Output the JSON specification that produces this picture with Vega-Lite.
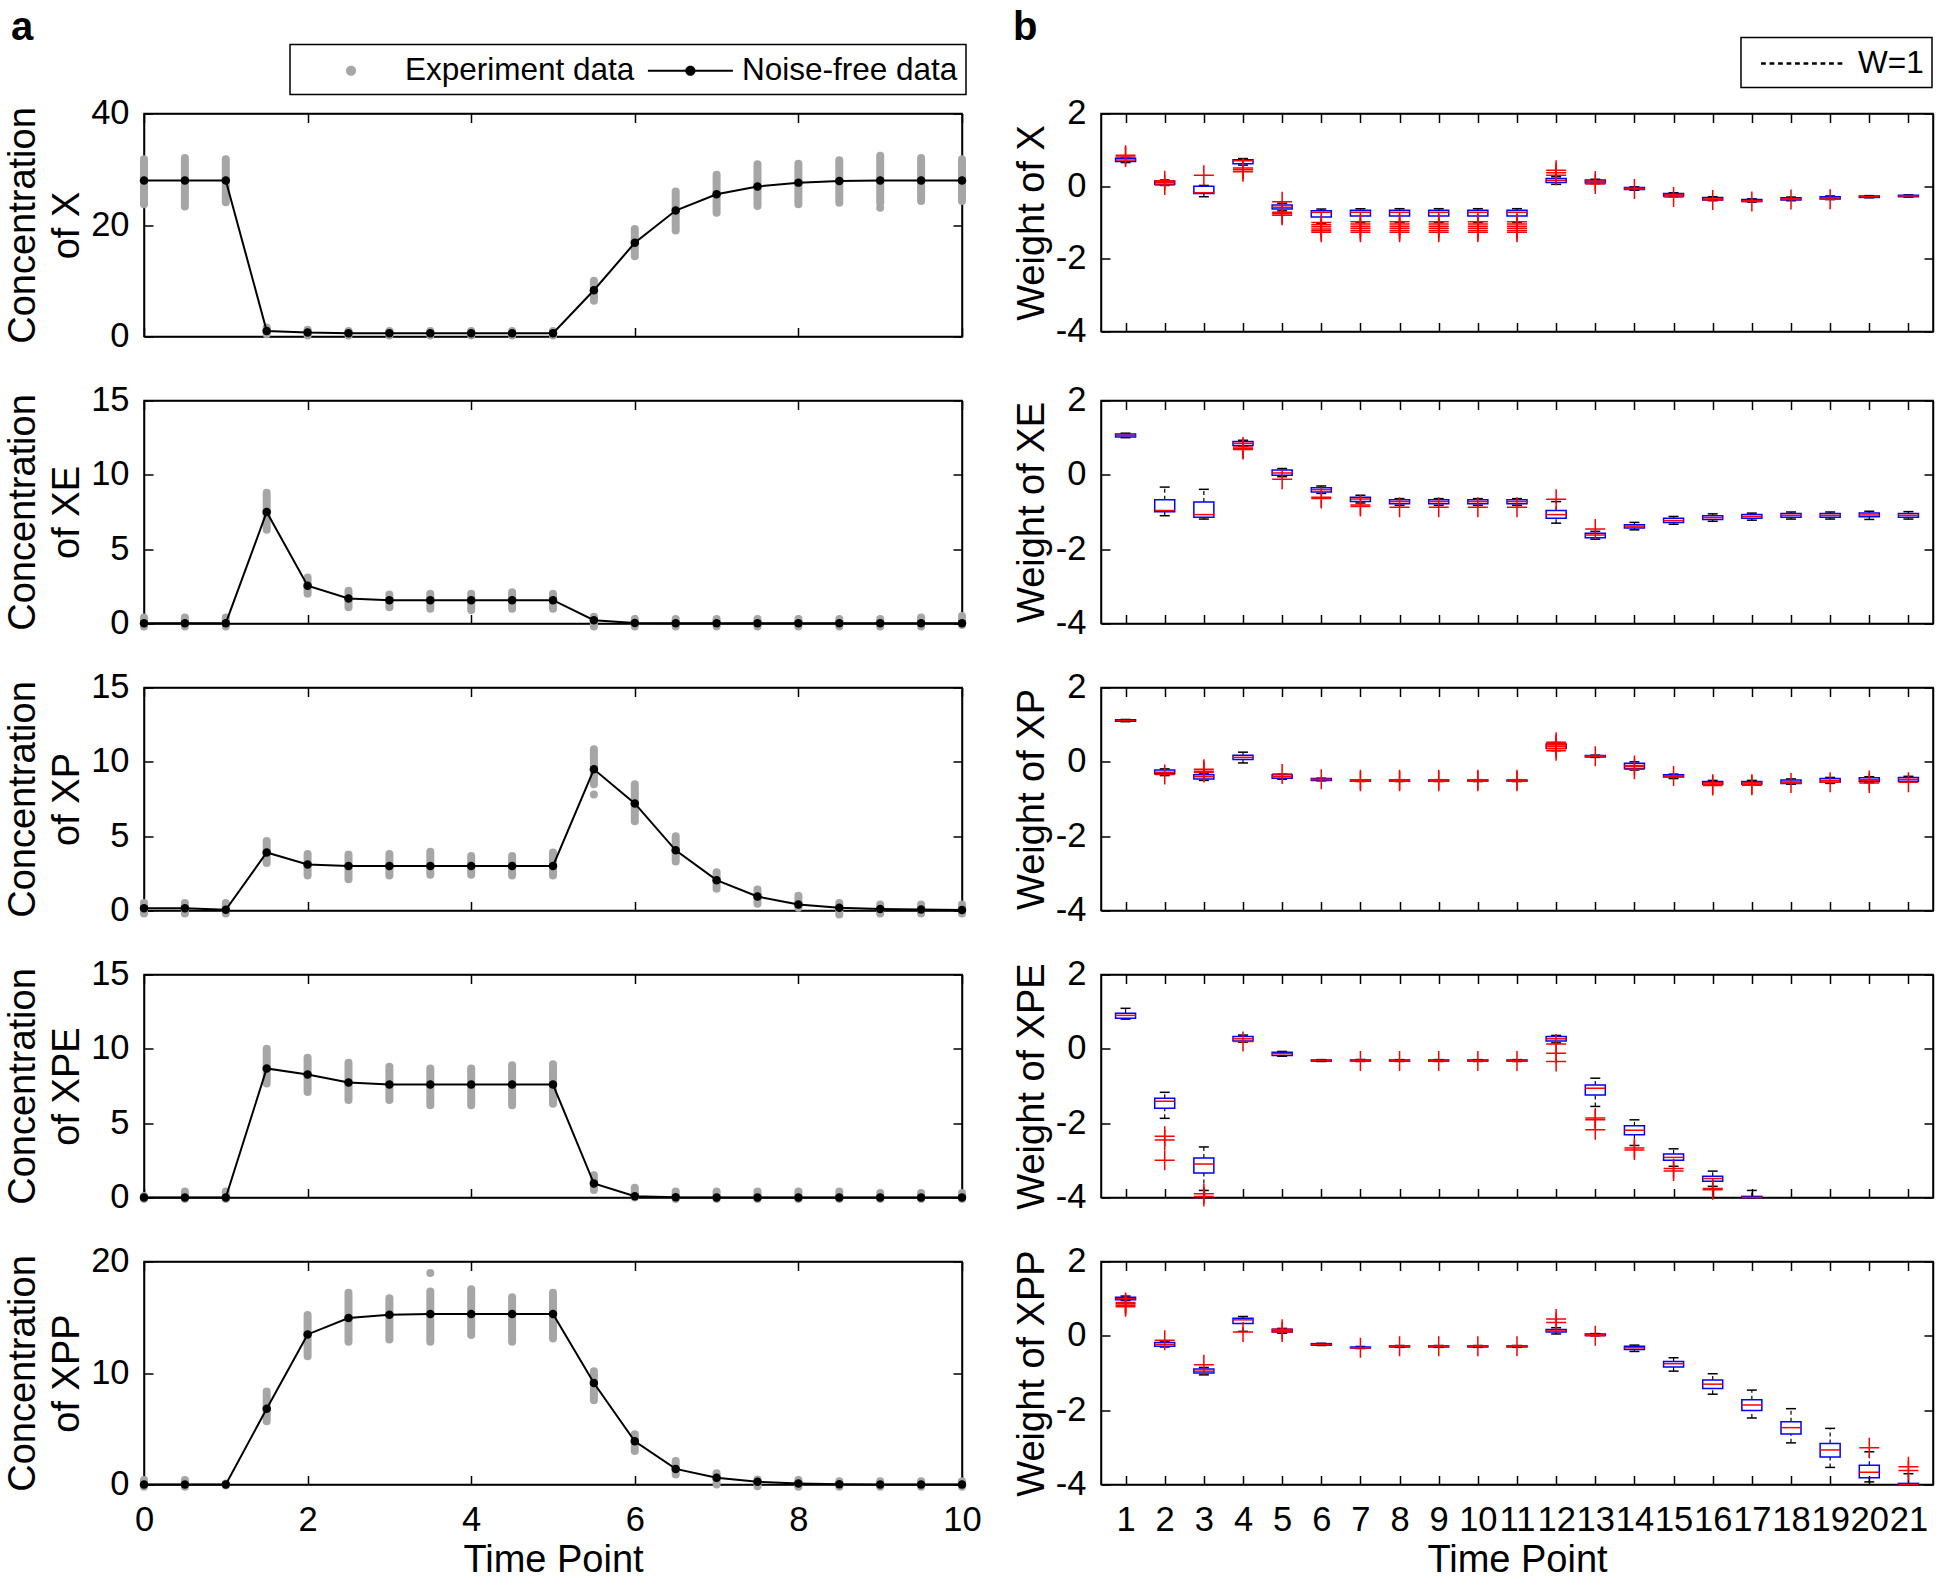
{
"$schema": "https://vega.github.io/schema/vega-lite/v6.json",
"padding": {"left": 3, "top": 6.5, "right": 5, "bottom": 0},
"config": {
 "font": "Liberation Sans",
 "view": {"stroke": "black", "strokeWidth": 1.5},
 "axis": {"grid": false, "domainColor": "black", "domainWidth": 1.5, "tickColor": "black", "tickWidth": 1.5, "tickSize": -9, "labelFontSize": 34.5, "labelColor": "black", "labelFont": "Liberation Sans", "titleFont": "Liberation Sans", "titleFontSize": 38, "titleFontWeight": "normal", "titleColor": "black", "labelFlush": false, "labelOverlap": false},
 "axisX": {"labelPadding": 28, "titlePadding": 4},
 "axisY": {"labelPadding": 24, "titlePadding": 4, "titleLineHeight": 44},
 "legend": {"labelFont": "Liberation Sans", "labelFontSize": 31.5, "labelColor": "black", "strokeWidth": 1.5, "labelLimit": 500},
 "title": {"font": "Liberation Sans", "color": "black"}
},
"datasets": {
 "conc": [
  {"s":"X","t":0,"v":28},{"s":"X","t":0.5,"v":28},{"s":"X","t":1,"v":28},{"s":"X","t":1.5,"v":1.0},{"s":"X","t":2,"v":0.7},{"s":"X","t":2.5,"v":0.6},{"s":"X","t":3,"v":0.6},{"s":"X","t":3.5,"v":0.6},{"s":"X","t":4,"v":0.6},{"s":"X","t":4.5,"v":0.6},{"s":"X","t":5,"v":0.6},{"s":"X","t":5.5,"v":8.3},{"s":"X","t":6,"v":16.8},{"s":"X","t":6.5,"v":22.6},{"s":"X","t":7,"v":25.5},{"s":"X","t":7.5,"v":26.9},{"s":"X","t":8,"v":27.6},{"s":"X","t":8.5,"v":27.9},{"s":"X","t":9,"v":28},{"s":"X","t":9.5,"v":28},{"s":"X","t":10,"v":28},
  {"s":"XE","t":0,"v":0.02},{"s":"XE","t":0.5,"v":0.02},{"s":"XE","t":1,"v":0.02},{"s":"XE","t":1.5,"v":7.5},{"s":"XE","t":2,"v":2.54},{"s":"XE","t":2.5,"v":1.68},{"s":"XE","t":3,"v":1.57},{"s":"XE","t":3.5,"v":1.57},{"s":"XE","t":4,"v":1.57},{"s":"XE","t":4.5,"v":1.57},{"s":"XE","t":5,"v":1.57},{"s":"XE","t":5.5,"v":0.22},{"s":"XE","t":6,"v":0.03},{"s":"XE","t":6.5,"v":0.02},{"s":"XE","t":7,"v":0.02},{"s":"XE","t":7.5,"v":0.02},{"s":"XE","t":8,"v":0.02},{"s":"XE","t":8.5,"v":0.02},{"s":"XE","t":9,"v":0.02},{"s":"XE","t":9.5,"v":0.02},{"s":"XE","t":10,"v":0.02},
  {"s":"XP","t":0,"v":0.15},{"s":"XP","t":0.5,"v":0.15},{"s":"XP","t":1,"v":0.05},{"s":"XP","t":1.5,"v":3.9},{"s":"XP","t":2,"v":3.1},{"s":"XP","t":2.5,"v":3.0},{"s":"XP","t":3,"v":3.0},{"s":"XP","t":3.5,"v":3.0},{"s":"XP","t":4,"v":3.0},{"s":"XP","t":4.5,"v":3.0},{"s":"XP","t":5,"v":3.0},{"s":"XP","t":5.5,"v":9.5},{"s":"XP","t":6,"v":7.2},{"s":"XP","t":6.5,"v":4.05},{"s":"XP","t":7,"v":2.04},{"s":"XP","t":7.5,"v":0.94},{"s":"XP","t":8,"v":0.4},{"s":"XP","t":8.5,"v":0.18},{"s":"XP","t":9,"v":0.1},{"s":"XP","t":9.5,"v":0.07},{"s":"XP","t":10,"v":0.03},
  {"s":"XPE","t":0,"v":0},{"s":"XPE","t":0.5,"v":0},{"s":"XPE","t":1,"v":0},{"s":"XPE","t":1.5,"v":8.68},{"s":"XPE","t":2,"v":8.27},{"s":"XPE","t":2.5,"v":7.74},{"s":"XPE","t":3,"v":7.6},{"s":"XPE","t":3.5,"v":7.6},{"s":"XPE","t":4,"v":7.6},{"s":"XPE","t":4.5,"v":7.6},{"s":"XPE","t":5,"v":7.6},{"s":"XPE","t":5.5,"v":0.94},{"s":"XPE","t":6,"v":0.09},{"s":"XPE","t":6.5,"v":0.01},{"s":"XPE","t":7,"v":0},{"s":"XPE","t":7.5,"v":0},{"s":"XPE","t":8,"v":0},{"s":"XPE","t":8.5,"v":0},{"s":"XPE","t":9,"v":0},{"s":"XPE","t":9.5,"v":0},{"s":"XPE","t":10,"v":0},
  {"s":"XPP","t":0,"v":0},{"s":"XPP","t":0.5,"v":0},{"s":"XPP","t":1,"v":0},{"s":"XPP","t":1.5,"v":6.8},{"s":"XPP","t":2,"v":13.46},{"s":"XPP","t":2.5,"v":14.93},{"s":"XPP","t":3,"v":15.22},{"s":"XPP","t":3.5,"v":15.3},{"s":"XPP","t":4,"v":15.3},{"s":"XPP","t":4.5,"v":15.3},{"s":"XPP","t":5,"v":15.3},{"s":"XPP","t":5.5,"v":9.1},{"s":"XPP","t":6,"v":3.88},{"s":"XPP","t":6.5,"v":1.4},{"s":"XPP","t":7,"v":0.6},{"s":"XPP","t":7.5,"v":0.24},{"s":"XPP","t":8,"v":0.09},{"s":"XPP","t":8.5,"v":0.02},{"s":"XPP","t":9,"v":0.01},{"s":"XPP","t":9.5,"v":0},{"s":"XPP","t":10,"v":0}
 ],
 "exp": [
  {"s":"X","t":0,"lo":23.7,"hi":31.8},{"s":"X","t":0.5,"lo":23.3,"hi":32.0},{"s":"X","t":1,"lo":24.1,"hi":31.8},{"s":"X","t":1.5,"lo":0.4,"hi":1.6},{"s":"X","t":2,"lo":0.2,"hi":1.2},{"s":"X","t":2.5,"lo":0.2,"hi":1.0},{"s":"X","t":3,"lo":0.2,"hi":1.0},{"s":"X","t":3.5,"lo":0.2,"hi":1.0},{"s":"X","t":4,"lo":0.2,"hi":1.0},{"s":"X","t":4.5,"lo":0.2,"hi":1.0},{"s":"X","t":5,"lo":0.2,"hi":1.0},{"s":"X","t":5.5,"lo":6.4,"hi":10.0},{"s":"X","t":6,"lo":14.4,"hi":19.3},{"s":"X","t":6.5,"lo":19.0,"hi":26.0},{"s":"X","t":7,"lo":22.2,"hi":29.0},{"s":"X","t":7.5,"lo":23.4,"hi":30.9},{"s":"X","t":8,"lo":23.7,"hi":31.0},{"s":"X","t":8.5,"lo":24.0,"hi":31.6},{"s":"X","t":9,"lo":24.0,"hi":32.4},{"s":"X","t":9.5,"lo":24.3,"hi":32.0},{"s":"X","t":10,"lo":24.3,"hi":31.8},
  {"s":"XE","t":0,"lo":-0.2,"hi":0.4},{"s":"XE","t":0.5,"lo":-0.2,"hi":0.4},{"s":"XE","t":1,"lo":-0.2,"hi":0.4},{"s":"XE","t":1.5,"lo":6.3,"hi":8.8},{"s":"XE","t":2,"lo":2.0,"hi":3.1},{"s":"XE","t":2.5,"lo":1.1,"hi":2.2},{"s":"XE","t":3,"lo":1.1,"hi":1.95},{"s":"XE","t":3.5,"lo":1.0,"hi":2.0},{"s":"XE","t":4,"lo":0.9,"hi":2.0},{"s":"XE","t":4.5,"lo":1.0,"hi":2.1},{"s":"XE","t":5,"lo":1.0,"hi":2.0},{"s":"XE","t":5.5,"lo":-0.2,"hi":0.45},{"s":"XE","t":6,"lo":-0.2,"hi":0.3},{"s":"XE","t":6.5,"lo":-0.2,"hi":0.3},{"s":"XE","t":7,"lo":-0.2,"hi":0.3},{"s":"XE","t":7.5,"lo":-0.2,"hi":0.3},{"s":"XE","t":8,"lo":-0.2,"hi":0.3},{"s":"XE","t":8.5,"lo":-0.2,"hi":0.3},{"s":"XE","t":9,"lo":-0.2,"hi":0.3},{"s":"XE","t":9.5,"lo":-0.2,"hi":0.4},{"s":"XE","t":10,"lo":-0.1,"hi":0.5},
  {"s":"XP","t":0,"lo":-0.2,"hi":0.5},{"s":"XP","t":0.5,"lo":-0.2,"hi":0.5},{"s":"XP","t":1,"lo":-0.2,"hi":0.5},{"s":"XP","t":1.5,"lo":3.2,"hi":4.67},{"s":"XP","t":2,"lo":2.36,"hi":3.8},{"s":"XP","t":2.5,"lo":2.1,"hi":3.77},{"s":"XP","t":3,"lo":2.36,"hi":3.8},{"s":"XP","t":3.5,"lo":2.4,"hi":3.95},{"s":"XP","t":4,"lo":2.4,"hi":3.66},{"s":"XP","t":4.5,"lo":2.36,"hi":3.66},{"s":"XP","t":5,"lo":2.36,"hi":3.9},{"s":"XP","t":5.5,"lo":8.5,"hi":10.85},{"s":"XP","t":6,"lo":6.0,"hi":8.5},{"s":"XP","t":6.5,"lo":3.3,"hi":5.0},{"s":"XP","t":7,"lo":1.46,"hi":2.58},{"s":"XP","t":7.5,"lo":0.45,"hi":1.41},{"s":"XP","t":8,"lo":0.18,"hi":1.0},{"s":"XP","t":8.5,"lo":-0.27,"hi":0.5},{"s":"XP","t":9,"lo":-0.2,"hi":0.4},{"s":"XP","t":9.5,"lo":-0.2,"hi":0.4},{"s":"XP","t":10,"lo":-0.2,"hi":0.4},
  {"s":"XPE","t":0,"lo":-0.1,"hi":0.1},{"s":"XPE","t":0.5,"lo":-0.1,"hi":0.4},{"s":"XPE","t":1,"lo":-0.1,"hi":0.4},{"s":"XPE","t":1.5,"lo":7.67,"hi":10.0},{"s":"XPE","t":2,"lo":7.1,"hi":9.4},{"s":"XPE","t":2.5,"lo":6.55,"hi":9.06},{"s":"XPE","t":3,"lo":6.55,"hi":8.8},{"s":"XPE","t":3.5,"lo":6.2,"hi":8.68},{"s":"XPE","t":4,"lo":6.2,"hi":8.68},{"s":"XPE","t":4.5,"lo":6.2,"hi":8.9},{"s":"XPE","t":5,"lo":6.3,"hi":8.97},{"s":"XPE","t":5.5,"lo":0.5,"hi":1.5},{"s":"XPE","t":6,"lo":0.0,"hi":0.65},{"s":"XPE","t":6.5,"lo":-0.1,"hi":0.4},{"s":"XPE","t":7,"lo":-0.1,"hi":0.4},{"s":"XPE","t":7.5,"lo":-0.1,"hi":0.4},{"s":"XPE","t":8,"lo":-0.1,"hi":0.4},{"s":"XPE","t":8.5,"lo":-0.1,"hi":0.4},{"s":"XPE","t":9,"lo":-0.1,"hi":0.3},{"s":"XPE","t":9.5,"lo":-0.1,"hi":0.3},{"s":"XPE","t":10,"lo":-0.1,"hi":0.3},
  {"s":"XPP","t":0,"lo":-0.2,"hi":0.4},{"s":"XPP","t":0.5,"lo":-0.2,"hi":0.4},{"s":"XPP","t":1,"lo":-0.1,"hi":0.1},{"s":"XPP","t":1.5,"lo":5.67,"hi":8.35},{"s":"XPP","t":2,"lo":11.5,"hi":15.2},{"s":"XPP","t":2.5,"lo":12.8,"hi":17.2},{"s":"XPP","t":3,"lo":13.0,"hi":16.7},{"s":"XPP","t":3.5,"lo":12.8,"hi":17.3},{"s":"XPP","t":4,"lo":13.4,"hi":17.5},{"s":"XPP","t":4.5,"lo":12.8,"hi":16.8},{"s":"XPP","t":5,"lo":13.1,"hi":17.2},{"s":"XPP","t":5.5,"lo":7.55,"hi":10.15},{"s":"XPP","t":6,"lo":3.0,"hi":4.5},{"s":"XPP","t":6.5,"lo":0.9,"hi":2.1},{"s":"XPP","t":7,"lo":0.0,"hi":1.0},{"s":"XPP","t":7.5,"lo":-0.15,"hi":0.45},{"s":"XPP","t":8,"lo":-0.2,"hi":0.4},{"s":"XPP","t":8.5,"lo":-0.2,"hi":0.3},{"s":"XPP","t":9,"lo":-0.2,"hi":0.3},{"s":"XPP","t":9.5,"lo":-0.2,"hi":0.3},{"s":"XPP","t":10,"lo":-0.2,"hi":0.3}
 ],
 "expout": [
  {"s":"X","t":9,"v":23.1},{"s":"XP","t":5.5,"v":7.8},{"s":"XPP","t":3.5,"v":18.96}
 ],
 "box": [
  {"s":"X","p":1,"lo":0.65,"q1":0.68,"md":0.72,"q3":0.77,"hi":0.79},{"s":"X","p":2,"lo":0.02,"q1":0.05,"md":0.1,"q3":0.14,"hi":0.17},{"s":"X","p":3,"lo":-0.29,"q1":-0.2,"md":-0.18,"q3":0,"hi":0.02},{"s":"X","p":4,"lo":0.58,"q1":0.62,"md":0.7,"q3":0.73,"hi":0.76},{"s":"X","p":5,"lo":-0.68,"q1":-0.63,"md":-0.58,"q3":-0.52,"hi":-0.47},{"s":"X","p":6,"lo":-1.03,"q1":-0.85,"md":-0.72,"q3":-0.68,"hi":-0.63},{"s":"X","p":7,"lo":-1.0,"q1":-0.82,"md":-0.72,"q3":-0.66,"hi":-0.62},{"s":"X","p":8,"lo":-1.0,"q1":-0.82,"md":-0.72,"q3":-0.66,"hi":-0.62},{"s":"X","p":9,"lo":-1.0,"q1":-0.82,"md":-0.72,"q3":-0.66,"hi":-0.62},{"s":"X","p":10,"lo":-1.0,"q1":-0.82,"md":-0.72,"q3":-0.66,"hi":-0.62},{"s":"X","p":11,"lo":-1.0,"q1":-0.82,"md":-0.72,"q3":-0.66,"hi":-0.62},{"s":"X","p":12,"lo":0.05,"q1":0.1,"md":0.16,"q3":0.21,"hi":0.26},{"s":"X","p":13,"lo":0.07,"q1":0.09,"md":0.12,"q3":0.17,"hi":0.19},{"s":"X","p":14,"lo":-0.11,"q1":-0.09,"md":-0.06,"q3":-0.04,"hi":-0.02},{"s":"X","p":15,"lo":-0.29,"q1":-0.27,"md":-0.23,"q3":-0.2,"hi":-0.18},{"s":"X","p":16,"lo":-0.4,"q1":-0.38,"md":-0.35,"q3":-0.31,"hi":-0.29},{"s":"X","p":17,"lo":-0.44,"q1":-0.42,"md":-0.4,"q3":-0.37,"hi":-0.35},{"s":"X","p":18,"lo":-0.4,"q1":-0.38,"md":-0.35,"q3":-0.32,"hi":-0.3},{"s":"X","p":19,"lo":-0.37,"q1":-0.35,"md":-0.32,"q3":-0.29,"hi":-0.27},{"s":"X","p":20,"lo":-0.32,"q1":-0.31,"md":-0.29,"q3":-0.27,"hi":-0.26},{"s":"X","p":21,"lo":-0.3,"q1":-0.29,"md":-0.27,"q3":-0.25,"hi":-0.24},
  {"s":"XE","p":1,"lo":1.0,"q1":1.02,"md":1.06,"q3":1.1,"hi":1.12},{"s":"XE","p":2,"lo":-1.1,"q1":-0.99,"md":-0.96,"q3":-0.67,"hi":-0.33},{"s":"XE","p":3,"lo":-1.19,"q1":-1.14,"md":-1.07,"q3":-0.73,"hi":-0.39},{"s":"XE","p":4,"lo":0.77,"q1":0.79,"md":0.85,"q3":0.9,"hi":0.93},{"s":"XE","p":5,"lo":-0.05,"q1":-0.01,"md":0.05,"q3":0.13,"hi":0.17},{"s":"XE","p":6,"lo":-0.5,"q1":-0.46,"md":-0.4,"q3":-0.35,"hi":-0.3},{"s":"XE","p":7,"lo":-0.76,"q1":-0.72,"md":-0.65,"q3":-0.6,"hi":-0.55},{"s":"XE","p":8,"lo":-0.82,"q1":-0.78,"md":-0.72,"q3":-0.67,"hi":-0.64},{"s":"XE","p":9,"lo":-0.82,"q1":-0.78,"md":-0.72,"q3":-0.67,"hi":-0.64},{"s":"XE","p":10,"lo":-0.82,"q1":-0.78,"md":-0.72,"q3":-0.67,"hi":-0.64},{"s":"XE","p":11,"lo":-0.82,"q1":-0.78,"md":-0.72,"q3":-0.67,"hi":-0.64},{"s":"XE","p":12,"lo":-1.3,"q1":-1.17,"md":-1.07,"q3":-0.96,"hi":-0.72},{"s":"XE","p":13,"lo":-1.73,"q1":-1.69,"md":-1.62,"q3":-1.57,"hi":-1.52},{"s":"XE","p":14,"lo":-1.48,"q1":-1.43,"md":-1.38,"q3":-1.34,"hi":-1.28},{"s":"XE","p":15,"lo":-1.33,"q1":-1.28,"md":-1.23,"q3":-1.17,"hi":-1.12},{"s":"XE","p":16,"lo":-1.25,"q1":-1.2,"md":-1.15,"q3":-1.1,"hi":-1.05},{"s":"XE","p":17,"lo":-1.22,"q1":-1.17,"md":-1.12,"q3":-1.07,"hi":-1.03},{"s":"XE","p":18,"lo":-1.19,"q1":-1.14,"md":-1.09,"q3":-1.04,"hi":-1.0},{"s":"XE","p":19,"lo":-1.19,"q1":-1.14,"md":-1.09,"q3":-1.04,"hi":-1.0},{"s":"XE","p":20,"lo":-1.2,"q1":-1.13,"md":-1.08,"q3":-1.03,"hi":-0.98},{"s":"XE","p":21,"lo":-1.19,"q1":-1.14,"md":-1.09,"q3":-1.04,"hi":-0.99},
  {"s":"XP","p":1,"lo":1.08,"q1":1.09,"md":1.11,"q3":1.13,"hi":1.14},{"s":"XP","p":2,"lo":-0.37,"q1":-0.32,"md":-0.28,"q3":-0.22,"hi":-0.19},{"s":"XP","p":3,"lo":-0.5,"q1":-0.46,"md":-0.4,"q3":-0.35,"hi":-0.32},{"s":"XP","p":4,"lo":-0.03,"q1":0.06,"md":0.12,"q3":0.18,"hi":0.26},{"s":"XP","p":5,"lo":-0.47,"q1":-0.44,"md":-0.4,"q3":-0.35,"hi":-0.33},{"s":"XP","p":6,"lo":-0.51,"q1":-0.5,"md":-0.48,"q3":-0.45,"hi":-0.44},{"s":"XP","p":7,"lo":-0.53,"q1":-0.52,"md":-0.5,"q3":-0.49,"hi":-0.48},{"s":"XP","p":8,"lo":-0.53,"q1":-0.52,"md":-0.5,"q3":-0.49,"hi":-0.48},{"s":"XP","p":9,"lo":-0.53,"q1":-0.52,"md":-0.5,"q3":-0.49,"hi":-0.48},{"s":"XP","p":10,"lo":-0.53,"q1":-0.52,"md":-0.5,"q3":-0.49,"hi":-0.48},{"s":"XP","p":11,"lo":-0.53,"q1":-0.52,"md":-0.5,"q3":-0.49,"hi":-0.48},{"s":"XP","p":12,"lo":0.3,"q1":0.36,"md":0.42,"q3":0.48,"hi":0.52},{"s":"XP","p":13,"lo":0.12,"q1":0.13,"md":0.15,"q3":0.17,"hi":0.18},{"s":"XP","p":14,"lo":-0.22,"q1":-0.18,"md":-0.12,"q3":-0.04,"hi":0},{"s":"XP","p":15,"lo":-0.45,"q1":-0.41,"md":-0.38,"q3":-0.35,"hi":-0.33},{"s":"XP","p":16,"lo":-0.63,"q1":-0.6,"md":-0.56,"q3":-0.53,"hi":-0.5},{"s":"XP","p":17,"lo":-0.63,"q1":-0.6,"md":-0.56,"q3":-0.53,"hi":-0.5},{"s":"XP","p":18,"lo":-0.6,"q1":-0.58,"md":-0.54,"q3":-0.49,"hi":-0.46},{"s":"XP","p":19,"lo":-0.58,"q1":-0.55,"md":-0.5,"q3":-0.45,"hi":-0.42},{"s":"XP","p":20,"lo":-0.56,"q1":-0.53,"md":-0.48,"q3":-0.43,"hi":-0.4},{"s":"XP","p":21,"lo":-0.55,"q1":-0.52,"md":-0.47,"q3":-0.42,"hi":-0.39},
  {"s":"XPE","p":1,"lo":0.8,"q1":0.82,"md":0.9,"q3":0.96,"hi":1.09},{"s":"XPE","p":2,"lo":-1.87,"q1":-1.6,"md":-1.41,"q3":-1.33,"hi":-1.17},{"s":"XPE","p":3,"lo":-3.81,"q1":-3.34,"md":-3.1,"q3":-2.94,"hi":-2.64},{"s":"XPE","p":4,"lo":0.18,"q1":0.21,"md":0.27,"q3":0.33,"hi":0.37},{"s":"XPE","p":5,"lo":-0.2,"q1":-0.18,"md":-0.13,"q3":-0.09,"hi":-0.07},{"s":"XPE","p":6,"lo":-0.34,"q1":-0.33,"md":-0.31,"q3":-0.3,"hi":-0.29},{"s":"XPE","p":7,"lo":-0.34,"q1":-0.33,"md":-0.31,"q3":-0.3,"hi":-0.29},{"s":"XPE","p":8,"lo":-0.34,"q1":-0.33,"md":-0.31,"q3":-0.3,"hi":-0.29},{"s":"XPE","p":9,"lo":-0.34,"q1":-0.33,"md":-0.31,"q3":-0.3,"hi":-0.29},{"s":"XPE","p":10,"lo":-0.34,"q1":-0.33,"md":-0.31,"q3":-0.3,"hi":-0.29},{"s":"XPE","p":11,"lo":-0.34,"q1":-0.33,"md":-0.31,"q3":-0.3,"hi":-0.29},{"s":"XPE","p":12,"lo":0.16,"q1":0.21,"md":0.27,"q3":0.33,"hi":0.36},{"s":"XPE","p":13,"lo":-1.55,"q1":-1.24,"md":-1.06,"q3":-0.97,"hi":-0.79},{"s":"XPE","p":14,"lo":-2.6,"q1":-2.31,"md":-2.19,"q3":-2.07,"hi":-1.91},{"s":"XPE","p":15,"lo":-3.16,"q1":-3.0,"md":-2.92,"q3":-2.83,"hi":-2.69},{"s":"XPE","p":16,"lo":-3.7,"q1":-3.56,"md":-3.49,"q3":-3.43,"hi":-3.29},{"s":"XPE","p":17,"lo":-4.0,"q1":-4.0,"md":-4.0,"q3":-3.97,"hi":-3.81},
  {"s":"XPP","p":1,"lo":0.95,"q1":0.97,"md":1.0,"q3":1.04,"hi":1.07},{"s":"XPP","p":2,"lo":-0.3,"q1":-0.28,"md":-0.23,"q3":-0.18,"hi":-0.15},{"s":"XPP","p":3,"lo":-1.05,"q1":-1.0,"md":-0.95,"q3":-0.89,"hi":-0.85},{"s":"XPP","p":4,"lo":0.12,"q1":0.33,"md":0.43,"q3":0.47,"hi":0.52},{"s":"XPP","p":5,"lo":0.07,"q1":0.1,"md":0.15,"q3":0.18,"hi":0.2},{"s":"XPP","p":6,"lo":-0.26,"q1":-0.25,"md":-0.23,"q3":-0.21,"hi":-0.2},{"s":"XPP","p":7,"lo":-0.34,"q1":-0.33,"md":-0.32,"q3":-0.3,"hi":-0.29},{"s":"XPP","p":8,"lo":-0.31,"q1":-0.3,"md":-0.28,"q3":-0.27,"hi":-0.26},{"s":"XPP","p":9,"lo":-0.31,"q1":-0.3,"md":-0.28,"q3":-0.27,"hi":-0.26},{"s":"XPP","p":10,"lo":-0.31,"q1":-0.3,"md":-0.28,"q3":-0.27,"hi":-0.26},{"s":"XPP","p":11,"lo":-0.31,"q1":-0.3,"md":-0.28,"q3":-0.27,"hi":-0.26},{"s":"XPP","p":12,"lo":0.05,"q1":0.1,"md":0.13,"q3":0.17,"hi":0.22},{"s":"XPP","p":13,"lo":0,"q1":0.01,"md":0.03,"q3":0.05,"hi":0.06},{"s":"XPP","p":14,"lo":-0.42,"q1":-0.37,"md":-0.32,"q3":-0.28,"hi":-0.25},{"s":"XPP","p":15,"lo":-0.95,"q1":-0.84,"md":-0.75,"q3":-0.69,"hi":-0.59},{"s":"XPP","p":16,"lo":-1.57,"q1":-1.42,"md":-1.3,"q3":-1.19,"hi":-1.02},{"s":"XPP","p":17,"lo":-2.21,"q1":-2.01,"md":-1.86,"q3":-1.72,"hi":-1.46},{"s":"XPP","p":18,"lo":-2.88,"q1":-2.64,"md":-2.47,"q3":-2.31,"hi":-1.96},{"s":"XPP","p":19,"lo":-3.54,"q1":-3.26,"md":-3.07,"q3":-2.9,"hi":-2.49},{"s":"XPP","p":20,"lo":-3.93,"q1":-3.82,"md":-3.67,"q3":-3.48,"hi":-3.12},{"s":"XPP","p":21,"lo":-4.0,"q1":-4.0,"md":-4.0,"q3":-3.97,"hi":-3.71}
 ],
 "out": [
  {"s":"X","p":1,"v":0.85},{"s":"X","p":1,"v":0.8},{"s":"X","p":2,"v":0.15},{"s":"X","p":2,"v":0.03},{"s":"X","p":3,"v":0.3},{"s":"X","p":4,"v":0.5},{"s":"X","p":4,"v":0.45},{"s":"X","p":4,"v":0.4},{"s":"X","p":5,"v":-0.43},{"s":"X","p":5,"v":-0.72},{"s":"X","p":5,"v":-0.76},{"s":"X","p":5,"v":-0.8},
  {"s":"X","p":6,"v":-1.0},{"s":"X","p":6,"v":-1.06},{"s":"X","p":6,"v":-1.12},{"s":"X","p":6,"v":-1.18},{"s":"X","p":6,"v":-1.23},{"s":"X","p":6,"v":-1.27},
  {"s":"X","p":7,"v":-0.98},{"s":"X","p":7,"v":-1.04},{"s":"X","p":7,"v":-1.1},{"s":"X","p":7,"v":-1.16},{"s":"X","p":7,"v":-1.22},{"s":"X","p":7,"v":-1.27},
  {"s":"X","p":8,"v":-0.98},{"s":"X","p":8,"v":-1.04},{"s":"X","p":8,"v":-1.1},{"s":"X","p":8,"v":-1.16},{"s":"X","p":8,"v":-1.22},{"s":"X","p":8,"v":-1.27},
  {"s":"X","p":9,"v":-0.98},{"s":"X","p":9,"v":-1.04},{"s":"X","p":9,"v":-1.1},{"s":"X","p":9,"v":-1.16},{"s":"X","p":9,"v":-1.22},{"s":"X","p":9,"v":-1.27},
  {"s":"X","p":10,"v":-0.98},{"s":"X","p":10,"v":-1.04},{"s":"X","p":10,"v":-1.1},{"s":"X","p":10,"v":-1.16},{"s":"X","p":10,"v":-1.22},{"s":"X","p":10,"v":-1.27},
  {"s":"X","p":11,"v":-0.98},{"s":"X","p":11,"v":-1.04},{"s":"X","p":11,"v":-1.1},{"s":"X","p":11,"v":-1.16},{"s":"X","p":11,"v":-1.22},{"s":"X","p":11,"v":-1.27},
  {"s":"X","p":12,"v":0.44},{"s":"X","p":12,"v":0.37},{"s":"X","p":12,"v":0.3},{"s":"X","p":13,"v":0.14},{"s":"X","p":13,"v":0.06},{"s":"X","p":14,"v":-0.08},{"s":"X","p":15,"v":-0.3},{"s":"X","p":16,"v":-0.38},{"s":"X","p":17,"v":-0.42},{"s":"X","p":18,"v":-0.37},{"s":"X","p":19,"v":-0.36},
  {"s":"XE","p":4,"v":0.75},{"s":"XE","p":4,"v":0.7},{"s":"XE","p":4,"v":0.68},{"s":"XE","p":5,"v":-0.12},{"s":"XE","p":6,"v":-0.6},{"s":"XE","p":6,"v":-0.64},{"s":"XE","p":7,"v":-0.81},{"s":"XE","p":7,"v":-0.85},{"s":"XE","p":8,"v":-0.87},{"s":"XE","p":9,"v":-0.87},{"s":"XE","p":10,"v":-0.87},{"s":"XE","p":11,"v":-0.87},{"s":"XE","p":12,"v":-0.66},{"s":"XE","p":13,"v":-1.46},
  {"s":"XP","p":2,"v":-0.34},{"s":"XP","p":3,"v":-0.2},{"s":"XP","p":3,"v":-0.25},{"s":"XP","p":3,"v":-0.29},{"s":"XP","p":5,"v":-0.33},{"s":"XP","p":6,"v":-0.47},{"s":"XP","p":7,"v":-0.48},{"s":"XP","p":7,"v":-0.52},{"s":"XP","p":8,"v":-0.48},{"s":"XP","p":8,"v":-0.52},{"s":"XP","p":9,"v":-0.48},{"s":"XP","p":9,"v":-0.52},{"s":"XP","p":10,"v":-0.48},{"s":"XP","p":10,"v":-0.52},{"s":"XP","p":11,"v":-0.48},{"s":"XP","p":11,"v":-0.52},{"s":"XP","p":12,"v":0.53},{"s":"XP","p":12,"v":0.47},{"s":"XP","p":12,"v":0.42},{"s":"XP","p":12,"v":0.36},{"s":"XP","p":12,"v":0.3},{"s":"XP","p":13,"v":0.15},{"s":"XP","p":14,"v":-0.1},{"s":"XP","p":14,"v":-0.2},{"s":"XP","p":15,"v":-0.38},{"s":"XP","p":16,"v":-0.6},{"s":"XP","p":16,"v":-0.64},{"s":"XP","p":17,"v":-0.6},{"s":"XP","p":17,"v":-0.63},{"s":"XP","p":18,"v":-0.57},{"s":"XP","p":19,"v":-0.55},{"s":"XP","p":20,"v":-0.57},{"s":"XP","p":20,"v":-0.5},{"s":"XP","p":21,"v":-0.55},
  {"s":"XPE","p":2,"v":-2.35},{"s":"XPE","p":2,"v":-2.45},{"s":"XPE","p":2,"v":-3.0},{"s":"XPE","p":3,"v":-3.9},{"s":"XPE","p":3,"v":-3.97},{"s":"XPE","p":4,"v":0.2},{"s":"XPE","p":7,"v":-0.33},{"s":"XPE","p":8,"v":-0.33},{"s":"XPE","p":9,"v":-0.33},{"s":"XPE","p":10,"v":-0.33},{"s":"XPE","p":11,"v":-0.33},{"s":"XPE","p":12,"v":0.13},{"s":"XPE","p":12,"v":-0.12},{"s":"XPE","p":12,"v":-0.34},{"s":"XPE","p":13,"v":-1.86},{"s":"XPE","p":13,"v":-1.91},{"s":"XPE","p":13,"v":-2.18},{"s":"XPE","p":14,"v":-2.67},{"s":"XPE","p":14,"v":-2.72},{"s":"XPE","p":15,"v":-3.22},{"s":"XPE","p":15,"v":-3.29},{"s":"XPE","p":16,"v":-3.76},{"s":"XPE","p":16,"v":-3.79},
  {"s":"XPP","p":1,"v":0.9},{"s":"XPP","p":1,"v":0.86},{"s":"XPP","p":1,"v":0.82},{"s":"XPP","p":1,"v":0.78},{"s":"XPP","p":2,"v":-0.12},{"s":"XPP","p":3,"v":-0.78},{"s":"XPP","p":4,"v":0.1},{"s":"XPP","p":5,"v":0.1},{"s":"XPP","p":5,"v":0.18},{"s":"XPP","p":7,"v":-0.32},{"s":"XPP","p":8,"v":-0.28},{"s":"XPP","p":9,"v":-0.28},{"s":"XPP","p":10,"v":-0.28},{"s":"XPP","p":11,"v":-0.28},{"s":"XPP","p":12,"v":0.45},{"s":"XPP","p":12,"v":0.36},{"s":"XPP","p":13,"v":0},{"s":"XPP","p":20,"v":-3.01},{"s":"XPP","p":21,"v":-3.52},{"s":"XPP","p":21,"v":-3.62}
 ]
},
"columns": 2,
"spacing": {"row": 64, "column": 139},
"bounds": "flush",
"align": "each",
"resolve": {"scale": {"color": "independent", "shape": "independent"}, "legend": {"color": "independent", "shape": "independent"}},
"concat": [
 {"width": 818, "height": 223,
  "title": {"text": "a", "anchor": "start", "frame": "group", "fontSize": 40, "fontWeight": "bold", "dx": -133, "offset": -4.4},
  "layer": [
   {"data": {"name": "exp"}, "transform": [{"filter": "datum.s === 'X'"}], "mark": {"type": "rule", "color": "#a6a6a6", "strokeWidth": 8, "strokeCap": "round"},
    "encoding": {"x": {"field": "t", "type": "quantitative", "scale": {"domain": [0, 10], "nice": false}, "axis": {"orient": "bottom", "values": [0,2,4,6,8,10], "labels": false, "title": null}},
     "y": {"field": "lo", "type": "quantitative", "scale": {"domain": [0, 40], "nice": false}, "axis": {"orient": "left", "values": [0,20,40], "title": ["Concentration", "of X"]}}, "y2": {"field": "hi"}}},
   {"data": {"name": "conc"}, "transform": [{"filter": "datum.s === 'X'"}], "mark": {"type": "line", "color": "black", "strokeWidth": 2},
    "encoding": {"x": {"field": "t", "type": "quantitative", "scale": {"domain": [0, 10], "nice": false}, "axis": {"orient": "top", "values": [0,2,4,6,8,10], "labels": false, "title": null}},
     "y": {"field": "v", "type": "quantitative", "scale": {"domain": [0, 40], "nice": false}, "axis": {"orient": "right", "values": [0,20,40], "labels": false, "title": null}}}},
   {"data": {"name": "expout"}, "transform": [{"filter": "datum.s === 'X'"}], "mark": {"type": "circle", "color": "#a6a6a6", "size": 64, "opacity": 1},
    "encoding": {"x": {"field": "t", "type": "quantitative", "scale": {"domain": [0, 10], "nice": false}, "axis": null}, "y": {"field": "v", "type": "quantitative", "scale": {"domain": [0, 40], "nice": false}, "axis": null}}},
   {"data": {"name": "conc"}, "transform": [{"filter": "datum.s === 'X'"}], "mark": {"type": "circle", "color": "black", "size": 72, "opacity": 1},
    "encoding": {"x": {"field": "t", "type": "quantitative", "scale": {"domain": [0, 10], "nice": false}, "axis": null}, "y": {"field": "v", "type": "quantitative", "scale": {"domain": [0, 40], "nice": false}, "axis": null}}},
   {"data": {"values": [{"label": "Experiment data"}, {"label": "Noise-free data"}]}, "mark": {"type": "point", "filled": true, "opacity": 0, "size": 1156},
    "encoding": {
     "color": {"field": "label", "type": "nominal", "scale": {"range": ["#a6a6a6", "black"]}, "legend": {"orient": "none", "legendX": 146, "legendY": -69, "direction": "horizontal", "title": null, "padding": 8, "strokeColor": "black", "symbolSize": 1156, "labelOffset": 71, "columnPadding": 0, "labelFontSize": 31.5, "labelLimit": 500, "symbolOpacity": 1}},
     "shape": {"field": "label", "type": "nominal", "scale": {"range": ["M1.76,0A0.3,0.3 0 1 1 2.36,0A0.3,0.3 0 1 1 1.76,0Z", "M-0.3,-0.06H4.7V0.06H-0.3ZM1.9,0A0.3,0.3 0 1 1 2.5,0A0.3,0.3 0 1 1 1.9,0Z"]}, "legend": {"orient": "none", "legendX": 146, "legendY": -69, "direction": "horizontal", "title": null, "padding": 8, "strokeColor": "black", "symbolSize": 1156, "labelOffset": 71, "columnPadding": 0, "labelFontSize": 31.5, "labelLimit": 500, "symbolOpacity": 1}}}}
  ],
  "resolve": {"axis": {"x": "independent", "y": "independent"}}},
 {"width": 832, "height": 218,
  "title": {"text": "b", "anchor": "start", "frame": "group", "fontSize": 40, "fontWeight": "bold", "dx": -88, "offset": -11.4},
  "layer": [
   {"mark": {"type": "rule", "color": "black", "strokeWidth": 2.5, "strokeDash": [4, 4]}, "encoding": {"y": {"datum": 0, "type": "quantitative", "scale": {"domain": [-4, 2], "nice": false}, "axis": null}}},
   {"data": {"name": "box"}, "transform": [{"filter": "datum.s === 'X'"}], "mark": {"type": "rule", "color": "black", "strokeWidth": 1.2, "strokeDash": [4, 3]},
    "encoding": {"x": {"field": "p", "type": "quantitative", "scale": {"domain": [0.5, 21.5], "nice": false, "zero": false}, "axis": {"orient": "bottom", "values": [1,2,3,4,5,6,7,8,9,10,11,12,13,14,15,16,17,18,19,20,21], "labels": false, "title": null}},
     "y": {"field": "lo", "type": "quantitative", "scale": {"domain": [-4, 2], "nice": false}, "axis": {"orient": "left", "values": [-4,-2,0,2], "labelExpr": "'' + datum.value", "title": "Weight of X"}}, "y2": {"field": "q1"}}},
   {"data": {"name": "box"}, "transform": [{"filter": "datum.s === 'X'"}], "mark": {"type": "rule", "color": "black", "strokeWidth": 1.2, "strokeDash": [4, 3]},
    "encoding": {"x": {"field": "p", "type": "quantitative", "scale": {"domain": [0.5, 21.5], "nice": false, "zero": false}, "axis": {"orient": "top", "values": [1,2,3,4,5,6,7,8,9,10,11,12,13,14,15,16,17,18,19,20,21], "labels": false, "title": null}},
     "y": {"field": "q3", "type": "quantitative", "scale": {"domain": [-4, 2], "nice": false}, "axis": {"orient": "right", "values": [-4,-2,0,2], "labels": false, "title": null}}, "y2": {"field": "hi"}}},
   {"data": {"name": "box"}, "transform": [{"filter": "datum.s === 'X'"}], "mark": {"type": "tick", "orient": "horizontal", "color": "black", "size": 10, "thickness": 1.5, "opacity": 1},
    "encoding": {"x": {"field": "p", "type": "quantitative", "scale": {"domain": [0.5, 21.5], "nice": false, "zero": false}, "axis": null}, "y": {"field": "lo", "type": "quantitative", "scale": {"domain": [-4, 2], "nice": false}, "axis": null}}},
   {"data": {"name": "box"}, "transform": [{"filter": "datum.s === 'X'"}], "mark": {"type": "tick", "orient": "horizontal", "color": "black", "size": 10, "thickness": 1.5, "opacity": 1},
    "encoding": {"x": {"field": "p", "type": "quantitative", "scale": {"domain": [0.5, 21.5], "nice": false, "zero": false}, "axis": null}, "y": {"field": "hi", "type": "quantitative", "scale": {"domain": [-4, 2], "nice": false}, "axis": null}}},
   {"data": {"name": "box"}, "transform": [{"filter": "datum.s === 'X'"}], "mark": {"type": "bar", "filled": false, "color": "#0000ff", "strokeWidth": 1.5, "width": 20},
    "encoding": {"x": {"field": "p", "type": "quantitative", "scale": {"domain": [0.5, 21.5], "nice": false, "zero": false}, "axis": null}, "y": {"field": "q1", "type": "quantitative", "scale": {"domain": [-4, 2], "nice": false}, "axis": null}, "y2": {"field": "q3"}}},
   {"data": {"name": "box"}, "transform": [{"filter": "datum.s === 'X'"}], "mark": {"type": "tick", "orient": "horizontal", "color": "#ff0000", "size": 20, "thickness": 1.5, "opacity": 1},
    "encoding": {"x": {"field": "p", "type": "quantitative", "scale": {"domain": [0.5, 21.5], "nice": false, "zero": false}, "axis": null}, "y": {"field": "md", "type": "quantitative", "scale": {"domain": [-4, 2], "nice": false}, "axis": null}}},
   {"data": {"name": "out"}, "transform": [{"filter": "datum.s === 'X'"}], "mark": {"type": "point", "shape": "M-1,0H1M0,-1V1", "filled": false, "color": "#ff0000", "size": 400, "strokeWidth": 1.5, "opacity": 1},
    "encoding": {"x": {"field": "p", "type": "quantitative", "scale": {"domain": [0.5, 21.5], "nice": false, "zero": false}, "axis": null}, "y": {"field": "v", "type": "quantitative", "scale": {"domain": [-4, 2], "nice": false}, "axis": null}}},
   {"data": {"values": [{"label": "W=1"}]}, "mark": {"type": "point", "filled": true, "opacity": 0, "size": 1156},
    "encoding": {
     "color": {"field": "label", "type": "nominal", "scale": {"range": ["black"]}, "legend": {"orient": "none", "legendX": 640, "legendY": -76, "direction": "horizontal", "title": null, "padding": 8, "strokeColor": "black", "symbolSize": 1156, "labelOffset": 73, "labelFontSize": 31.5, "labelLimit": 500, "symbolOpacity": 1}},
     "shape": {"field": "label", "type": "nominal", "scale": {"range": ["M-0.35,-0.075h0.28v0.15h-0.28zM0.15,-0.075h0.28v0.15h-0.28zM0.65,-0.075h0.28v0.15h-0.28zM1.15,-0.075h0.28v0.15h-0.28zM1.65,-0.075h0.28v0.15h-0.28zM2.15,-0.075h0.28v0.15h-0.28zM2.65,-0.075h0.28v0.15h-0.28zM3.15,-0.075h0.28v0.15h-0.28zM3.65,-0.075h0.28v0.15h-0.28zM4.15,-0.075h0.28v0.15h-0.28z"]}, "legend": {"orient": "none", "legendX": 640, "legendY": -76, "direction": "horizontal", "title": null, "padding": 8, "strokeColor": "black", "symbolSize": 1156, "labelOffset": 73, "labelFontSize": 31.5, "labelLimit": 500, "symbolOpacity": 1}}}}
  ],
  "resolve": {"axis": {"x": "independent", "y": "independent"}}},
 {"width": 818, "height": 223,
  "layer": [
   {"data": {"name": "exp"}, "transform": [{"filter": "datum.s === 'XE'"}], "mark": {"type": "rule", "color": "#a6a6a6", "strokeWidth": 8, "strokeCap": "round"},
    "encoding": {"x": {"field": "t", "type": "quantitative", "scale": {"domain": [0, 10], "nice": false}, "axis": {"orient": "bottom", "values": [0,2,4,6,8,10], "labels": false, "title": null}},
     "y": {"field": "lo", "type": "quantitative", "scale": {"domain": [0, 15], "nice": false}, "axis": {"orient": "left", "values": [0,5,10,15], "title": ["Concentration", "of XE"]}}, "y2": {"field": "hi"}}},
   {"data": {"name": "conc"}, "transform": [{"filter": "datum.s === 'XE'"}], "mark": {"type": "line", "color": "black", "strokeWidth": 2},
    "encoding": {"x": {"field": "t", "type": "quantitative", "scale": {"domain": [0, 10], "nice": false}, "axis": {"orient": "top", "values": [0,2,4,6,8,10], "labels": false, "title": null}},
     "y": {"field": "v", "type": "quantitative", "scale": {"domain": [0, 15], "nice": false}, "axis": {"orient": "right", "values": [0,5,10,15], "labels": false, "title": null}}}},
   {"data": {"name": "conc"}, "transform": [{"filter": "datum.s === 'XE'"}], "mark": {"type": "circle", "color": "black", "size": 72, "opacity": 1},
    "encoding": {"x": {"field": "t", "type": "quantitative", "scale": {"domain": [0, 10], "nice": false}, "axis": null}, "y": {"field": "v", "type": "quantitative", "scale": {"domain": [0, 15], "nice": false}, "axis": null}}}
  ],
  "resolve": {"axis": {"x": "independent", "y": "independent"}}},
 {"width": 832, "height": 223,
  "layer": [
   {"mark": {"type": "rule", "color": "black", "strokeWidth": 2.5, "strokeDash": [4, 4]}, "encoding": {"y": {"datum": 0, "type": "quantitative", "scale": {"domain": [-4, 2], "nice": false}, "axis": null}}},
   {"data": {"name": "box"}, "transform": [{"filter": "datum.s === 'XE'"}], "mark": {"type": "rule", "color": "black", "strokeWidth": 1.2, "strokeDash": [4, 3]},
    "encoding": {"x": {"field": "p", "type": "quantitative", "scale": {"domain": [0.5, 21.5], "nice": false, "zero": false}, "axis": {"orient": "bottom", "values": [1,2,3,4,5,6,7,8,9,10,11,12,13,14,15,16,17,18,19,20,21], "labels": false, "title": null}},
     "y": {"field": "lo", "type": "quantitative", "scale": {"domain": [-4, 2], "nice": false}, "axis": {"orient": "left", "values": [-4,-2,0,2], "labelExpr": "'' + datum.value", "title": "Weight of XE"}}, "y2": {"field": "q1"}}},
   {"data": {"name": "box"}, "transform": [{"filter": "datum.s === 'XE'"}], "mark": {"type": "rule", "color": "black", "strokeWidth": 1.2, "strokeDash": [4, 3]},
    "encoding": {"x": {"field": "p", "type": "quantitative", "scale": {"domain": [0.5, 21.5], "nice": false, "zero": false}, "axis": {"orient": "top", "values": [1,2,3,4,5,6,7,8,9,10,11,12,13,14,15,16,17,18,19,20,21], "labels": false, "title": null}},
     "y": {"field": "q3", "type": "quantitative", "scale": {"domain": [-4, 2], "nice": false}, "axis": {"orient": "right", "values": [-4,-2,0,2], "labels": false, "title": null}}, "y2": {"field": "hi"}}},
   {"data": {"name": "box"}, "transform": [{"filter": "datum.s === 'XE'"}], "mark": {"type": "tick", "orient": "horizontal", "color": "black", "size": 10, "thickness": 1.5, "opacity": 1},
    "encoding": {"x": {"field": "p", "type": "quantitative", "scale": {"domain": [0.5, 21.5], "nice": false, "zero": false}, "axis": null}, "y": {"field": "lo", "type": "quantitative", "scale": {"domain": [-4, 2], "nice": false}, "axis": null}}},
   {"data": {"name": "box"}, "transform": [{"filter": "datum.s === 'XE'"}], "mark": {"type": "tick", "orient": "horizontal", "color": "black", "size": 10, "thickness": 1.5, "opacity": 1},
    "encoding": {"x": {"field": "p", "type": "quantitative", "scale": {"domain": [0.5, 21.5], "nice": false, "zero": false}, "axis": null}, "y": {"field": "hi", "type": "quantitative", "scale": {"domain": [-4, 2], "nice": false}, "axis": null}}},
   {"data": {"name": "box"}, "transform": [{"filter": "datum.s === 'XE'"}], "mark": {"type": "bar", "filled": false, "color": "#0000ff", "strokeWidth": 1.5, "width": 20},
    "encoding": {"x": {"field": "p", "type": "quantitative", "scale": {"domain": [0.5, 21.5], "nice": false, "zero": false}, "axis": null}, "y": {"field": "q1", "type": "quantitative", "scale": {"domain": [-4, 2], "nice": false}, "axis": null}, "y2": {"field": "q3"}}},
   {"data": {"name": "box"}, "transform": [{"filter": "datum.s === 'XE'"}], "mark": {"type": "tick", "orient": "horizontal", "color": "#ff0000", "size": 20, "thickness": 1.5, "opacity": 1},
    "encoding": {"x": {"field": "p", "type": "quantitative", "scale": {"domain": [0.5, 21.5], "nice": false, "zero": false}, "axis": null}, "y": {"field": "md", "type": "quantitative", "scale": {"domain": [-4, 2], "nice": false}, "axis": null}}},
   {"data": {"name": "out"}, "transform": [{"filter": "datum.s === 'XE'"}], "mark": {"type": "point", "shape": "M-1,0H1M0,-1V1", "filled": false, "color": "#ff0000", "size": 400, "strokeWidth": 1.5, "opacity": 1},
    "encoding": {"x": {"field": "p", "type": "quantitative", "scale": {"domain": [0.5, 21.5], "nice": false, "zero": false}, "axis": null}, "y": {"field": "v", "type": "quantitative", "scale": {"domain": [-4, 2], "nice": false}, "axis": null}}}
  ],
  "resolve": {"axis": {"x": "independent", "y": "independent"}}},
 {"width": 818, "height": 223,
  "layer": [
   {"data": {"name": "exp"}, "transform": [{"filter": "datum.s === 'XP'"}], "mark": {"type": "rule", "color": "#a6a6a6", "strokeWidth": 8, "strokeCap": "round"},
    "encoding": {"x": {"field": "t", "type": "quantitative", "scale": {"domain": [0, 10], "nice": false}, "axis": {"orient": "bottom", "values": [0,2,4,6,8,10], "labels": false, "title": null}},
     "y": {"field": "lo", "type": "quantitative", "scale": {"domain": [0, 15], "nice": false}, "axis": {"orient": "left", "values": [0,5,10,15], "title": ["Concentration", "of XP"]}}, "y2": {"field": "hi"}}},
   {"data": {"name": "conc"}, "transform": [{"filter": "datum.s === 'XP'"}], "mark": {"type": "line", "color": "black", "strokeWidth": 2},
    "encoding": {"x": {"field": "t", "type": "quantitative", "scale": {"domain": [0, 10], "nice": false}, "axis": {"orient": "top", "values": [0,2,4,6,8,10], "labels": false, "title": null}},
     "y": {"field": "v", "type": "quantitative", "scale": {"domain": [0, 15], "nice": false}, "axis": {"orient": "right", "values": [0,5,10,15], "labels": false, "title": null}}}},
   {"data": {"name": "expout"}, "transform": [{"filter": "datum.s === 'XP'"}], "mark": {"type": "circle", "color": "#a6a6a6", "size": 64, "opacity": 1},
    "encoding": {"x": {"field": "t", "type": "quantitative", "scale": {"domain": [0, 10], "nice": false}, "axis": null}, "y": {"field": "v", "type": "quantitative", "scale": {"domain": [0, 15], "nice": false}, "axis": null}}},
   {"data": {"name": "conc"}, "transform": [{"filter": "datum.s === 'XP'"}], "mark": {"type": "circle", "color": "black", "size": 72, "opacity": 1},
    "encoding": {"x": {"field": "t", "type": "quantitative", "scale": {"domain": [0, 10], "nice": false}, "axis": null}, "y": {"field": "v", "type": "quantitative", "scale": {"domain": [0, 15], "nice": false}, "axis": null}}}
  ],
  "resolve": {"axis": {"x": "independent", "y": "independent"}}},
 {"width": 832, "height": 223,
  "layer": [
   {"mark": {"type": "rule", "color": "black", "strokeWidth": 2.5, "strokeDash": [4, 4]}, "encoding": {"y": {"datum": 0, "type": "quantitative", "scale": {"domain": [-4, 2], "nice": false}, "axis": null}}},
   {"data": {"name": "box"}, "transform": [{"filter": "datum.s === 'XP'"}], "mark": {"type": "rule", "color": "black", "strokeWidth": 1.2, "strokeDash": [4, 3]},
    "encoding": {"x": {"field": "p", "type": "quantitative", "scale": {"domain": [0.5, 21.5], "nice": false, "zero": false}, "axis": {"orient": "bottom", "values": [1,2,3,4,5,6,7,8,9,10,11,12,13,14,15,16,17,18,19,20,21], "labels": false, "title": null}},
     "y": {"field": "lo", "type": "quantitative", "scale": {"domain": [-4, 2], "nice": false}, "axis": {"orient": "left", "values": [-4,-2,0,2], "labelExpr": "'' + datum.value", "title": "Weight of XP"}}, "y2": {"field": "q1"}}},
   {"data": {"name": "box"}, "transform": [{"filter": "datum.s === 'XP'"}], "mark": {"type": "rule", "color": "black", "strokeWidth": 1.2, "strokeDash": [4, 3]},
    "encoding": {"x": {"field": "p", "type": "quantitative", "scale": {"domain": [0.5, 21.5], "nice": false, "zero": false}, "axis": {"orient": "top", "values": [1,2,3,4,5,6,7,8,9,10,11,12,13,14,15,16,17,18,19,20,21], "labels": false, "title": null}},
     "y": {"field": "q3", "type": "quantitative", "scale": {"domain": [-4, 2], "nice": false}, "axis": {"orient": "right", "values": [-4,-2,0,2], "labels": false, "title": null}}, "y2": {"field": "hi"}}},
   {"data": {"name": "box"}, "transform": [{"filter": "datum.s === 'XP'"}], "mark": {"type": "tick", "orient": "horizontal", "color": "black", "size": 10, "thickness": 1.5, "opacity": 1},
    "encoding": {"x": {"field": "p", "type": "quantitative", "scale": {"domain": [0.5, 21.5], "nice": false, "zero": false}, "axis": null}, "y": {"field": "lo", "type": "quantitative", "scale": {"domain": [-4, 2], "nice": false}, "axis": null}}},
   {"data": {"name": "box"}, "transform": [{"filter": "datum.s === 'XP'"}], "mark": {"type": "tick", "orient": "horizontal", "color": "black", "size": 10, "thickness": 1.5, "opacity": 1},
    "encoding": {"x": {"field": "p", "type": "quantitative", "scale": {"domain": [0.5, 21.5], "nice": false, "zero": false}, "axis": null}, "y": {"field": "hi", "type": "quantitative", "scale": {"domain": [-4, 2], "nice": false}, "axis": null}}},
   {"data": {"name": "box"}, "transform": [{"filter": "datum.s === 'XP'"}], "mark": {"type": "bar", "filled": false, "color": "#0000ff", "strokeWidth": 1.5, "width": 20},
    "encoding": {"x": {"field": "p", "type": "quantitative", "scale": {"domain": [0.5, 21.5], "nice": false, "zero": false}, "axis": null}, "y": {"field": "q1", "type": "quantitative", "scale": {"domain": [-4, 2], "nice": false}, "axis": null}, "y2": {"field": "q3"}}},
   {"data": {"name": "box"}, "transform": [{"filter": "datum.s === 'XP'"}], "mark": {"type": "tick", "orient": "horizontal", "color": "#ff0000", "size": 20, "thickness": 1.5, "opacity": 1},
    "encoding": {"x": {"field": "p", "type": "quantitative", "scale": {"domain": [0.5, 21.5], "nice": false, "zero": false}, "axis": null}, "y": {"field": "md", "type": "quantitative", "scale": {"domain": [-4, 2], "nice": false}, "axis": null}}},
   {"data": {"name": "out"}, "transform": [{"filter": "datum.s === 'XP'"}], "mark": {"type": "point", "shape": "M-1,0H1M0,-1V1", "filled": false, "color": "#ff0000", "size": 400, "strokeWidth": 1.5, "opacity": 1},
    "encoding": {"x": {"field": "p", "type": "quantitative", "scale": {"domain": [0.5, 21.5], "nice": false, "zero": false}, "axis": null}, "y": {"field": "v", "type": "quantitative", "scale": {"domain": [-4, 2], "nice": false}, "axis": null}}}
  ],
  "resolve": {"axis": {"x": "independent", "y": "independent"}}},
 {"width": 818, "height": 223,
  "layer": [
   {"data": {"name": "exp"}, "transform": [{"filter": "datum.s === 'XPE'"}], "mark": {"type": "rule", "color": "#a6a6a6", "strokeWidth": 8, "strokeCap": "round"},
    "encoding": {"x": {"field": "t", "type": "quantitative", "scale": {"domain": [0, 10], "nice": false}, "axis": {"orient": "bottom", "values": [0,2,4,6,8,10], "labels": false, "title": null}},
     "y": {"field": "lo", "type": "quantitative", "scale": {"domain": [0, 15], "nice": false}, "axis": {"orient": "left", "values": [0,5,10,15], "title": ["Concentration", "of XPE"]}}, "y2": {"field": "hi"}}},
   {"data": {"name": "conc"}, "transform": [{"filter": "datum.s === 'XPE'"}], "mark": {"type": "line", "color": "black", "strokeWidth": 2},
    "encoding": {"x": {"field": "t", "type": "quantitative", "scale": {"domain": [0, 10], "nice": false}, "axis": {"orient": "top", "values": [0,2,4,6,8,10], "labels": false, "title": null}},
     "y": {"field": "v", "type": "quantitative", "scale": {"domain": [0, 15], "nice": false}, "axis": {"orient": "right", "values": [0,5,10,15], "labels": false, "title": null}}}},
   {"data": {"name": "conc"}, "transform": [{"filter": "datum.s === 'XPE'"}], "mark": {"type": "circle", "color": "black", "size": 72, "opacity": 1},
    "encoding": {"x": {"field": "t", "type": "quantitative", "scale": {"domain": [0, 10], "nice": false}, "axis": null}, "y": {"field": "v", "type": "quantitative", "scale": {"domain": [0, 15], "nice": false}, "axis": null}}}
  ],
  "resolve": {"axis": {"x": "independent", "y": "independent"}}},
 {"width": 832, "height": 223,
  "layer": [
   {"mark": {"type": "rule", "color": "black", "strokeWidth": 2.5, "strokeDash": [4, 4]}, "encoding": {"y": {"datum": 0, "type": "quantitative", "scale": {"domain": [-4, 2], "nice": false}, "axis": null}}},
   {"data": {"name": "box"}, "transform": [{"filter": "datum.s === 'XPE'"}], "mark": {"type": "rule", "color": "black", "strokeWidth": 1.2, "strokeDash": [4, 3]},
    "encoding": {"x": {"field": "p", "type": "quantitative", "scale": {"domain": [0.5, 21.5], "nice": false, "zero": false}, "axis": {"orient": "bottom", "values": [1,2,3,4,5,6,7,8,9,10,11,12,13,14,15,16,17,18,19,20,21], "labels": false, "title": null}},
     "y": {"field": "lo", "type": "quantitative", "scale": {"domain": [-4, 2], "nice": false}, "axis": {"orient": "left", "values": [-4,-2,0,2], "labelExpr": "'' + datum.value", "title": "Weight of XPE"}}, "y2": {"field": "q1"}}},
   {"data": {"name": "box"}, "transform": [{"filter": "datum.s === 'XPE'"}], "mark": {"type": "rule", "color": "black", "strokeWidth": 1.2, "strokeDash": [4, 3]},
    "encoding": {"x": {"field": "p", "type": "quantitative", "scale": {"domain": [0.5, 21.5], "nice": false, "zero": false}, "axis": {"orient": "top", "values": [1,2,3,4,5,6,7,8,9,10,11,12,13,14,15,16,17,18,19,20,21], "labels": false, "title": null}},
     "y": {"field": "q3", "type": "quantitative", "scale": {"domain": [-4, 2], "nice": false}, "axis": {"orient": "right", "values": [-4,-2,0,2], "labels": false, "title": null}}, "y2": {"field": "hi"}}},
   {"data": {"name": "box"}, "transform": [{"filter": "datum.s === 'XPE'"}], "mark": {"type": "tick", "orient": "horizontal", "color": "black", "size": 10, "thickness": 1.5, "opacity": 1},
    "encoding": {"x": {"field": "p", "type": "quantitative", "scale": {"domain": [0.5, 21.5], "nice": false, "zero": false}, "axis": null}, "y": {"field": "lo", "type": "quantitative", "scale": {"domain": [-4, 2], "nice": false}, "axis": null}}},
   {"data": {"name": "box"}, "transform": [{"filter": "datum.s === 'XPE'"}], "mark": {"type": "tick", "orient": "horizontal", "color": "black", "size": 10, "thickness": 1.5, "opacity": 1},
    "encoding": {"x": {"field": "p", "type": "quantitative", "scale": {"domain": [0.5, 21.5], "nice": false, "zero": false}, "axis": null}, "y": {"field": "hi", "type": "quantitative", "scale": {"domain": [-4, 2], "nice": false}, "axis": null}}},
   {"data": {"name": "box"}, "transform": [{"filter": "datum.s === 'XPE'"}], "mark": {"type": "bar", "filled": false, "color": "#0000ff", "strokeWidth": 1.5, "width": 20},
    "encoding": {"x": {"field": "p", "type": "quantitative", "scale": {"domain": [0.5, 21.5], "nice": false, "zero": false}, "axis": null}, "y": {"field": "q1", "type": "quantitative", "scale": {"domain": [-4, 2], "nice": false}, "axis": null}, "y2": {"field": "q3"}}},
   {"data": {"name": "box"}, "transform": [{"filter": "datum.s === 'XPE'"}], "mark": {"type": "tick", "orient": "horizontal", "color": "#ff0000", "size": 20, "thickness": 1.5, "opacity": 1},
    "encoding": {"x": {"field": "p", "type": "quantitative", "scale": {"domain": [0.5, 21.5], "nice": false, "zero": false}, "axis": null}, "y": {"field": "md", "type": "quantitative", "scale": {"domain": [-4, 2], "nice": false}, "axis": null}}},
   {"data": {"name": "out"}, "transform": [{"filter": "datum.s === 'XPE'"}], "mark": {"type": "point", "shape": "M-1,0H1M0,-1V1", "filled": false, "color": "#ff0000", "size": 400, "strokeWidth": 1.5, "opacity": 1},
    "encoding": {"x": {"field": "p", "type": "quantitative", "scale": {"domain": [0.5, 21.5], "nice": false, "zero": false}, "axis": null}, "y": {"field": "v", "type": "quantitative", "scale": {"domain": [-4, 2], "nice": false}, "axis": null}}}
  ],
  "resolve": {"axis": {"x": "independent", "y": "independent"}}},
 {"width": 818, "height": 223,
  "layer": [
   {"data": {"name": "exp"}, "transform": [{"filter": "datum.s === 'XPP'"}], "mark": {"type": "rule", "color": "#a6a6a6", "strokeWidth": 8, "strokeCap": "round"},
    "encoding": {"x": {"field": "t", "type": "quantitative", "scale": {"domain": [0, 10], "nice": false}, "axis": {"orient": "bottom", "values": [0,2,4,6,8,10], "labels": true, "title": "Time Point"}},
     "y": {"field": "lo", "type": "quantitative", "scale": {"domain": [0, 20], "nice": false}, "axis": {"orient": "left", "values": [0,10,20], "title": ["Concentration", "of XPP"]}}, "y2": {"field": "hi"}}},
   {"data": {"name": "conc"}, "transform": [{"filter": "datum.s === 'XPP'"}], "mark": {"type": "line", "color": "black", "strokeWidth": 2},
    "encoding": {"x": {"field": "t", "type": "quantitative", "scale": {"domain": [0, 10], "nice": false}, "axis": {"orient": "top", "values": [0,2,4,6,8,10], "labels": false, "title": null}},
     "y": {"field": "v", "type": "quantitative", "scale": {"domain": [0, 20], "nice": false}, "axis": {"orient": "right", "values": [0,10,20], "labels": false, "title": null}}}},
   {"data": {"name": "expout"}, "transform": [{"filter": "datum.s === 'XPP'"}], "mark": {"type": "circle", "color": "#a6a6a6", "size": 64, "opacity": 1},
    "encoding": {"x": {"field": "t", "type": "quantitative", "scale": {"domain": [0, 10], "nice": false}, "axis": null}, "y": {"field": "v", "type": "quantitative", "scale": {"domain": [0, 20], "nice": false}, "axis": null}}},
   {"data": {"name": "conc"}, "transform": [{"filter": "datum.s === 'XPP'"}], "mark": {"type": "circle", "color": "black", "size": 72, "opacity": 1},
    "encoding": {"x": {"field": "t", "type": "quantitative", "scale": {"domain": [0, 10], "nice": false}, "axis": null}, "y": {"field": "v", "type": "quantitative", "scale": {"domain": [0, 20], "nice": false}, "axis": null}}}
  ],
  "resolve": {"axis": {"x": "independent", "y": "independent"}}},
 {"width": 832, "height": 223,
  "layer": [
   {"mark": {"type": "rule", "color": "black", "strokeWidth": 2.5, "strokeDash": [4, 4]}, "encoding": {"y": {"datum": 0, "type": "quantitative", "scale": {"domain": [-4, 2], "nice": false}, "axis": null}}},
   {"data": {"name": "box"}, "transform": [{"filter": "datum.s === 'XPP'"}], "mark": {"type": "rule", "color": "black", "strokeWidth": 1.2, "strokeDash": [4, 3]},
    "encoding": {"x": {"field": "p", "type": "quantitative", "scale": {"domain": [0.5, 21.5], "nice": false, "zero": false}, "axis": {"orient": "bottom", "values": [1,2,3,4,5,6,7,8,9,10,11,12,13,14,15,16,17,18,19,20,21], "labels": true, "title": "Time Point"}},
     "y": {"field": "lo", "type": "quantitative", "scale": {"domain": [-4, 2], "nice": false}, "axis": {"orient": "left", "values": [-4,-2,0,2], "labelExpr": "'' + datum.value", "title": "Weight of XPP"}}, "y2": {"field": "q1"}}},
   {"data": {"name": "box"}, "transform": [{"filter": "datum.s === 'XPP'"}], "mark": {"type": "rule", "color": "black", "strokeWidth": 1.2, "strokeDash": [4, 3]},
    "encoding": {"x": {"field": "p", "type": "quantitative", "scale": {"domain": [0.5, 21.5], "nice": false, "zero": false}, "axis": {"orient": "top", "values": [1,2,3,4,5,6,7,8,9,10,11,12,13,14,15,16,17,18,19,20,21], "labels": false, "title": null}},
     "y": {"field": "q3", "type": "quantitative", "scale": {"domain": [-4, 2], "nice": false}, "axis": {"orient": "right", "values": [-4,-2,0,2], "labels": false, "title": null}}, "y2": {"field": "hi"}}},
   {"data": {"name": "box"}, "transform": [{"filter": "datum.s === 'XPP'"}], "mark": {"type": "tick", "orient": "horizontal", "color": "black", "size": 10, "thickness": 1.5, "opacity": 1},
    "encoding": {"x": {"field": "p", "type": "quantitative", "scale": {"domain": [0.5, 21.5], "nice": false, "zero": false}, "axis": null}, "y": {"field": "lo", "type": "quantitative", "scale": {"domain": [-4, 2], "nice": false}, "axis": null}}},
   {"data": {"name": "box"}, "transform": [{"filter": "datum.s === 'XPP'"}], "mark": {"type": "tick", "orient": "horizontal", "color": "black", "size": 10, "thickness": 1.5, "opacity": 1},
    "encoding": {"x": {"field": "p", "type": "quantitative", "scale": {"domain": [0.5, 21.5], "nice": false, "zero": false}, "axis": null}, "y": {"field": "hi", "type": "quantitative", "scale": {"domain": [-4, 2], "nice": false}, "axis": null}}},
   {"data": {"name": "box"}, "transform": [{"filter": "datum.s === 'XPP'"}], "mark": {"type": "bar", "filled": false, "color": "#0000ff", "strokeWidth": 1.5, "width": 20},
    "encoding": {"x": {"field": "p", "type": "quantitative", "scale": {"domain": [0.5, 21.5], "nice": false, "zero": false}, "axis": null}, "y": {"field": "q1", "type": "quantitative", "scale": {"domain": [-4, 2], "nice": false}, "axis": null}, "y2": {"field": "q3"}}},
   {"data": {"name": "box"}, "transform": [{"filter": "datum.s === 'XPP'"}], "mark": {"type": "tick", "orient": "horizontal", "color": "#ff0000", "size": 20, "thickness": 1.5, "opacity": 1},
    "encoding": {"x": {"field": "p", "type": "quantitative", "scale": {"domain": [0.5, 21.5], "nice": false, "zero": false}, "axis": null}, "y": {"field": "md", "type": "quantitative", "scale": {"domain": [-4, 2], "nice": false}, "axis": null}}},
   {"data": {"name": "out"}, "transform": [{"filter": "datum.s === 'XPP'"}], "mark": {"type": "point", "shape": "M-1,0H1M0,-1V1", "filled": false, "color": "#ff0000", "size": 400, "strokeWidth": 1.5, "opacity": 1},
    "encoding": {"x": {"field": "p", "type": "quantitative", "scale": {"domain": [0.5, 21.5], "nice": false, "zero": false}, "axis": null}, "y": {"field": "v", "type": "quantitative", "scale": {"domain": [-4, 2], "nice": false}, "axis": null}}}
  ],
  "resolve": {"axis": {"x": "independent", "y": "independent"}}}
]
}
